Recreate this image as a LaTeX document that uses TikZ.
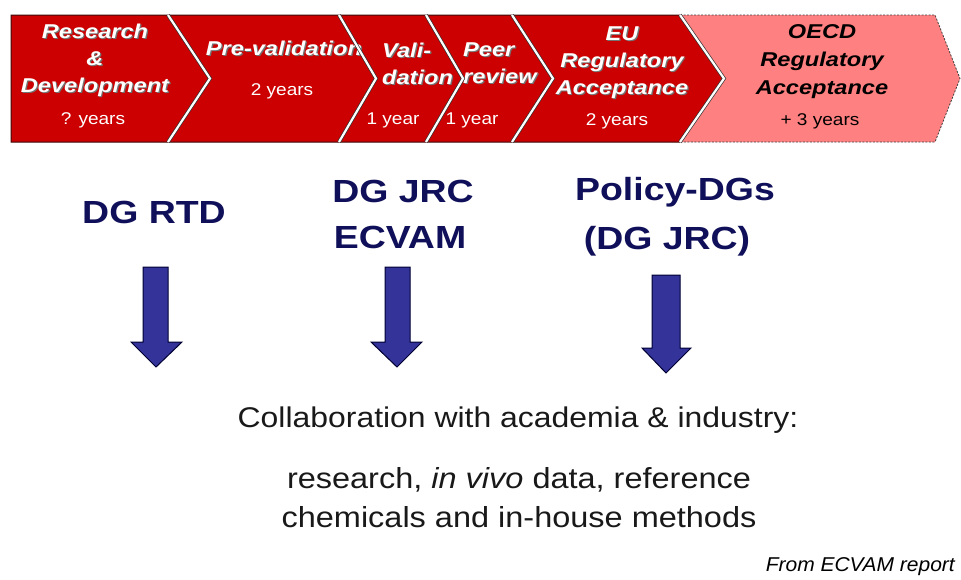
\documentclass[tikz,border=0pt]{standalone}
\usepackage{fontspec}
\setmainfont{Liberation Sans}
\newfontfamily\titlefont[FakeStretch=1.18]{Liberation Sans}
\newfontfamily\yearfont[FakeStretch=1.12]{Liberation Sans}
\newfontfamily\dgfont[FakeStretch=1.17]{Liberation Sans}
\newfontfamily\bodyfont[FakeStretch=1.12]{Liberation Sans}
\newfontfamily\notefont[FakeStretch=1.05]{Liberation Sans}
\definecolor{chevred}{RGB}{204,0,0}
\definecolor{oecdpink}{RGB}{255,128,128}
\definecolor{navytext}{RGB}{15,15,90}
\definecolor{arrowblue}{RGB}{51,51,153}
\definecolor{edgedark}{RGB}{60,10,10}
\tikzset{
  redchev/.style={fill=chevred, draw=edgedark, line width=1pt},
  pinkchev/.style={fill=oecdpink, draw=black!75, line width=0.8pt, dash pattern=on 2pt off 1.5pt},
  sepline/.style={draw=black!80, line width=0.7pt, double=white, double distance=2.2pt},
  stagetitle/.style={text=white, font=\titlefont\fontsize{20}{27}\selectfont\bfseries\itshape, align=center, inner sep=0pt},
  stageshadow/.style={stagetitle, text=black!55},
  oecdtitle/.style={text=black, font=\titlefont\fontsize{20}{28}\selectfont\bfseries\itshape, align=center, inner sep=0pt},
  yearlbl/.style={text=white, font=\yearfont\fontsize{17}{19}\selectfont, inner sep=0pt},
  dglbl/.style={text=navytext, font=\dgfont\fontsize{32}{40}\selectfont\bfseries, inner sep=0pt},
  blockarrow/.style={fill=arrowblue, draw=black!80!blue, line width=1pt, line join=miter},
  bodytext/.style={text=black!90, font=\bodyfont\fontsize{29}{39}\selectfont, inner sep=0pt, align=center},
}
\begin{document}
\begin{tikzpicture}[x=1pt,y=-1pt]
\useasboundingbox (0,0) rectangle (961,579);
\fill[white] (0,0) rectangle (961,579);

% chevron strip
\path[redchev] (11,15) -- (680,15) -- (724,78.5) -- (680,142) -- (11,142) -- cycle;
\path[pinkchev] (680,15) -- (935,15) -- (960,78.5) -- (935,142) -- (680,142) -- (724,78.5) -- cycle;

% stage text shadows
\node[stageshadow] (rds) at (96.2,61.7) {Research\\\&\\Development};
\node[stageshadow] (pvs) at (285.2,49.2) {Pre-validation};
\node[stageshadow, anchor=west, align=left] (vals) at (383.2,64.7) {Vali-\\dation};
\node[stageshadow, anchor=west, align=left] (peers) at (464.2,64.7) {Peer\\review};
\node[stageshadow] (eus) at (623.2,63.7) {EU\\Regulatory\\Acceptance};

% stage texts
\node[stagetitle] (rd) at (95,60.5) {Research\\\&\\Development};
\node[yearlbl] (rdy) at (93,120) {? years};
\node[stagetitle] (pv) at (284,48) {Pre-validation};
\node[yearlbl] (pvy) at (282,91) {2 years};
\node[stagetitle, anchor=west, align=left] (val) at (382,63.5) {Vali-\\dation};
\node[yearlbl] (valy) at (393,120) {1 year};
\node[stagetitle, anchor=west, align=left] (peer) at (463,63.5) {Peer\\review};
\node[yearlbl] (peery) at (472,120) {1 year};
\node[stagetitle] (eu) at (622,62.5) {EU\\Regulatory\\Acceptance};
\node[yearlbl] (euy) at (617,121) {2 years};
\node[oecdtitle] (oecd) at (822,62) {OECD\\Regulatory\\Acceptance};
\node[yearlbl, text=black] (oecdy) at (820,121) {+ 3 years};

% separators
\draw[sepline] (168,15) -- (210,78.5) -- (168,142);
\draw[sepline] (339,15) -- (376,78.5) -- (339,142);
\draw[sepline] (426,15) -- (463,78.5) -- (426,142);
\draw[sepline] (512,15) -- (553,78.5) -- (512,142);
\draw[sepline] (680,15) -- (724,78.5) -- (680,142);

% DG labels
\node[dglbl] (rtd) at (154,212) {DG RTD};
\node[dglbl] (jrc) at (403,191) {DG JRC};
\node[dglbl] (ecvam) at (400,237) {ECVAM};
\node[dglbl] (pol) at (675,192) {Policy-DGs};
\node[dglbl] (poljrc) at (667,241) {(DG JRC)};

% block arrows
\draw[blockarrow] (143,267) -- (168,267) -- (168,342) -- (182,342) -- (156,367) -- (131,342) -- (143,342) -- cycle;
\draw[blockarrow] (385,267) -- (410,267) -- (410,342) -- (422,342) -- (397,367) -- (371,342) -- (385,342) -- cycle;
\draw[blockarrow] (652,275) -- (680,275) -- (680,348) -- (691,348) -- (666,373) -- (642,348) -- (652,348) -- cycle;

% bottom text
\node[bodytext, font=\bodyfont\fontsize{28.5}{35}\selectfont] (collab) at (518,420) {Collaboration with academia \& industry:};
\node[bodytext] (res) at (519,498) {research, \textit{in vivo} data, reference\\chemicals and in-house methods};
\node[text=black, font=\notefont\fontsize{20}{22}\selectfont\itshape, inner sep=0pt, anchor=east] (src) at (955,567) {From ECVAM report};
\end{tikzpicture}
\end{document}
